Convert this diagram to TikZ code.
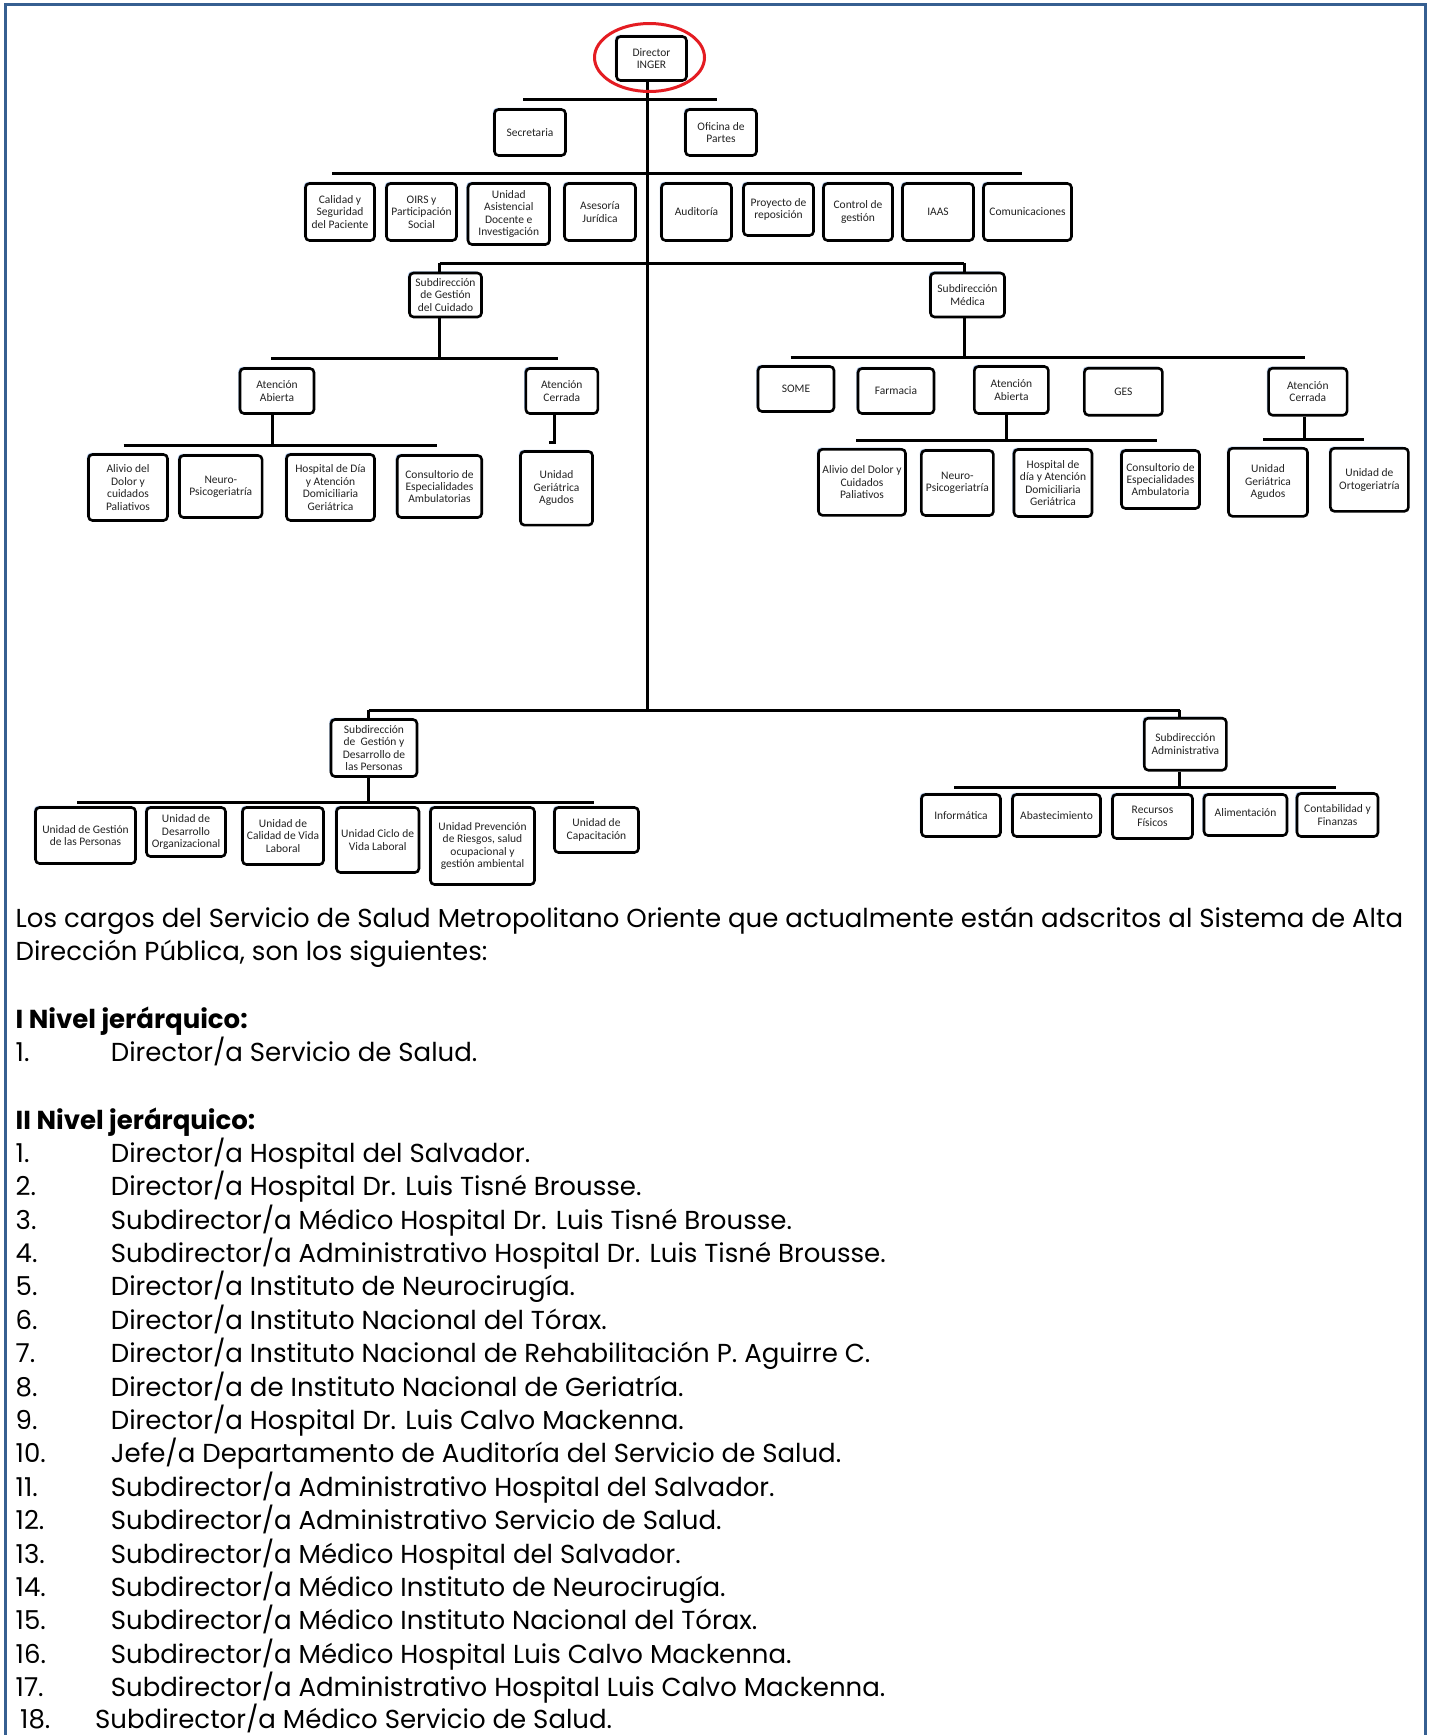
\documentclass[tikz,border=0pt]{standalone}
\usepackage{fontspec}
\setmainfont{Poppins}
\newfontfamily\chartfont{Carlito}
\usetikzlibrary{shapes.geometric,shadows}
\definecolor{framebl}{RGB}{54,95,145}
\definecolor{shadebl}{RGB}{70,120,190}
\definecolor{ringred}{RGB}{228,28,34}
\definecolor{boxtxt}{RGB}{35,35,35}
\tikzset{
  bx/.style={draw=black, line width=2.6pt, rounded corners=4pt, fill=white, align=center,
    inner sep=0pt, font=\chartfont\fontsize{11.5}{12.4}\selectfont, text=boxtxt,
    drop shadow={shadow xshift=-1.6pt, shadow yshift=1.6pt, fill=shadebl, opacity=0.5}},
  conn/.style={line width=3pt, draw=black},
  body/.style={anchor=base west, inner sep=0pt, font=\fontsize{26}{32}\selectfont},
  bodyb/.style={body, font=\fontsize{26}{32}\selectfont\bfseries},
}
\newcommand\bxnode[6]{\node[bx, minimum width=#4, minimum height=#5] (#1) at (#2,#3) {#6};}
\begin{document}
\begin{tikzpicture}[x=1pt,y=-1pt]
\useasboundingbox (0,0) rectangle (1429,1735);
\fill[white] (0,0) rectangle (1429,1735);
% frame
\draw[framebl, line width=3pt] (5.5,1740) -- (5.5,4.5) -- (1425.5,4.5) -- (1425.5,1740);

% ---- boxes
\bxnode{dir}{651.5}{58.5}{70}{44}{Director\\INGER}
\bxnode{sec}{530}{132.5}{71}{46}{Secretaria}
\bxnode{ofi}{721}{132.5}{71}{46}{Oficina de\\Partes}
\bxnode{cal}{340}{212}{69}{57}{Calidad y\\Seguridad\\del Paciente}
\bxnode{oirs}{421.5}{212}{70}{57}{OIRS y\\Participación\\Social}
\bxnode{uad}{508.75}{214}{81.5}{61}{Unidad\\Asistencial\\Docente e\\Investigación}
\bxnode{ase}{600}{212}{71}{57}{Asesoría\\Jurídica}
\bxnode{aud}{696.5}{212}{70}{57}{Auditoría}
\bxnode{pro}{778.5}{209.5}{70}{52}{Proyecto de\\reposición}
\bxnode{con}{858}{212}{69}{57}{Control de\\gestión}
\bxnode{iaas}{938}{212}{71}{57}{IAAS}
\bxnode{com}{1027.5}{212}{88}{57}{Comunicaciones}

\bxnode{sgc}{445.5}{295}{72}{44}{Subdirección\\de Gestión\\del Cuidado}
\bxnode{sm}{967.5}{295}{74}{44}{Subdirección\\Médica}

\bxnode{aaL}{277}{391}{74}{45}{Atención\\Abierta}
\bxnode{acL}{561.8}{391}{72}{45}{Atención\\Cerrada}
\bxnode{alivL}{128}{487.5}{79}{66}{Alivio del\\Dolor y\\cuidados\\Paliativos}
\bxnode{neuL}{220.8}{486.5}{82.6}{62}{Neuro-\\Psicogeriatría}
\bxnode{hdL}{330.5}{487.5}{88}{66}{Hospital de Día\\y Atención\\Domiciliaria\\Geriátrica}
\bxnode{consL}{439.5}{486.5}{84.5}{62}{Consultorio de\\Especialidades\\Ambulatorias}
\bxnode{ugaL}{556.5}{488.3}{72}{73.7}{Unidad\\Geriátrica\\Agudos}

\bxnode{some}{796}{389}{76}{45}{SOME}
\bxnode{farm}{896}{391}{76}{45}{Farmacia}
\bxnode{aaR}{1011.4}{390}{74}{47}{Atención\\Abierta}
\bxnode{ges}{1123.4}{391.7}{78}{47}{GES}
\bxnode{acR}{1307.8}{391.7}{78.5}{47}{Atención\\Cerrada}
\bxnode{alivR}{862}{482.3}{87}{66}{Alivio del Dolor y\\Cuidados\\Paliativos}
\bxnode{neuR}{957.4}{483}{72}{65}{Neuro-\\Psicogeriatría}
\bxnode{hdR}{1053}{483}{78}{67}{Hospital de\\día y Atención\\Domiciliaria\\Geriátrica}
\bxnode{consR}{1160.5}{479.5}{78}{58}{Consultorio de\\Especialidades\\Ambulatoria}
\bxnode{ugaR}{1268}{482.3}{79}{68}{Unidad\\Geriátrica\\Agudos}
\bxnode{ortR}{1369.4}{479.8}{78}{63}{Unidad de\\Ortogeriatría}

\bxnode{sgdp}{374}{748}{86}{57}{Subdirección\\de~ Gestión y\\Desarrollo de\\las Personas}
\bxnode{sa}{1185.3}{744.2}{82}{52}{Subdirección\\Administrativa}

\bxnode{ugp}{85.5}{835.5}{100}{56}{Unidad de Gestión\\de las Personas}
\bxnode{udo}{186}{832}{79}{49}{Unidad de\\Desarrollo\\Organizacional}
\bxnode{ucv}{283}{836}{81}{57}{Unidad de\\Calidad de Vida\\Laboral}
\bxnode{ucvl}{377.7}{840}{82.5}{65}{Unidad Ciclo de\\Vida Laboral}
\bxnode{upr}{482.5}{846}{104}{77}{Unidad Prevención\\de Riesgos, salud\\ocupacional y\\gestión ambiental}
\bxnode{ucap}{596.5}{830}{84}{45}{Unidad de\\Capacitación}

\bxnode{inf}{961}{815.5}{79}{42}{Informática}
\bxnode{aba}{1056.5}{815.5}{88}{42}{Abastecimiento}
\bxnode{rf}{1152.5}{816.5}{80}{44}{Recursos\\Físicos}
\bxnode{ali}{1245.5}{815}{83}{41}{\raisebox{5pt}{Alimentación}}
\bxnode{cyf}{1337.5}{815}{81}{43}{Contabilidad y\\Finanzas}

% ---- connector coordinates
\coordinate (trunkX) at (647,0);
\coordinate (botT) at (647,710);
\coordinate (l1a) at (523,99.3);   \coordinate (l1b) at (717,99.3);
\coordinate (l2a) at (332,173.5);  \coordinate (l2b) at (1022,173.5);
\coordinate (l3a) at (439.5,263);  \coordinate (l3b) at (964,263);
\coordinate (lsub) at (439.5,358); \coordinate (lsubA) at (271,358); \coordinate (lsubB) at (558,358);
\coordinate (aaLb) at (272.5,445); \coordinate (aaLA) at (123.6,445); \coordinate (aaLB) at (437,445);
\coordinate (acLb) at (554.6,442); \coordinate (acLt) at (549,442);
\coordinate (rsub) at (964,357.5); \coordinate (rsubA) at (790.5,357.5); \coordinate (rsubB) at (1304.6,357.5);
\coordinate (aaRb) at (1006,440);  \coordinate (aaRA) at (856.4,440); \coordinate (aaRB) at (1157.4,440);
\coordinate (acRb) at (1304.6,439); \coordinate (acRA) at (1263,439); \coordinate (acRB) at (1364,439);
\coordinate (bbA) at (368.6,710);  \coordinate (bbB) at (1179.5,710);
\coordinate (sgdpb) at (368.6,802); \coordinate (sgdpA) at (77,802); \coordinate (sgdpB) at (594,802);
\coordinate (sab) at (1179.5,787); \coordinate (saA) at (954,787); \coordinate (saB) at (1336,787);

% ---- connectors
\draw[conn] (dir.south -| trunkX) -- (botT);
\draw[conn] (l1a) -- (l1b);
\draw[conn] (l2a) -- (l2b);
\draw[conn] (l3a) -- (l3b);
\draw[conn] (l3a) -- (sgc.north -| l3a);
\draw[conn] (sgc.south -| lsub) -- (lsub);
\draw[conn] (lsubA) -- (lsubB);
\draw[conn] (aaL.south -| aaLb) -- (aaLb);
\draw[conn] (aaLA) -- (aaLB);
\draw[conn] (acL.south -| acLb) -- (acLb) -- (acLt);
\draw[conn] (l3b) -- (sm.north -| l3b);
\draw[conn] (sm.south -| rsub) -- (rsub);
\draw[conn] (rsubA) -- (rsubB);
\draw[conn] (aaR.south -| aaRb) -- (aaRb);
\draw[conn] (aaRA) -- (aaRB);
\draw[conn] (acR.south -| acRb) -- (acRb);
\draw[conn] (acRA) -- (acRB);
\draw[conn] (bbA) -- (bbB);
\draw[conn] (bbA) -- (sgdp.north -| bbA);
\draw[conn] (sgdp.south -| sgdpb) -- (sgdpb);
\draw[conn] (sgdpA) -- (sgdpB);
\draw[conn] (bbB) -- (sa.north -| bbB);
\draw[conn] (sa.south -| sab) -- (sab);
\draw[conn] (saA) -- (saB);

% red ring
\node[draw=ringred, line width=3pt, ellipse, minimum width=110pt, minimum height=68pt, inner sep=0pt] (ring) at (649.5,57.5) {};

% ---- text
\node[body] (p1) at (15.5,927.6) {Los cargos del Servicio de Salud Metropolitano Oriente que actualmente están adscritos al Sistema de Alta};
\node[body] (p2) at (15.5,960.8) {Dirección Pública, son los siguientes:};
\node[bodyb] (h1) at (15.5,1028.3) {I Nivel jerárquico:};
\node[body] (a1n) at (15.5,1061.5) {1.};
\node[body] (a1) at (110.7,1061.5) {Director/a Servicio de Salud.};
\node[bodyb] (h2) at (15.5,1129) {II Nivel jerárquico:};
\node[body] (b1n) at (15.5,1162.2) {1.};  \node[body] (b1) at (110.7,1162.2) {Director/a Hospital del Salvador.};
\node[body] (b2n) at (15.5,1195.6) {2.};  \node[body] (b2) at (110.7,1195.6) {Director/a Hospital Dr. Luis Tisné Brousse.};
\node[body] (b3n) at (15.5,1229.0) {3.};  \node[body] (b3) at (110.7,1229.0) {Subdirector/a Médico Hospital Dr. Luis Tisné Brousse.};
\node[body] (b4n) at (15.5,1262.4) {4.};  \node[body] (b4) at (110.7,1262.4) {Subdirector/a Administrativo Hospital Dr. Luis Tisné Brousse.};
\node[body] (b5n) at (15.5,1295.8) {5.};  \node[body] (b5) at (110.7,1295.8) {Director/a Instituto de Neurocirugía.};
\node[body] (b6n) at (15.5,1329.2) {6.};  \node[body] (b6) at (110.7,1329.2) {Director/a Instituto Nacional del Tórax.};
\node[body] (b7n) at (15.5,1362.6) {7.};  \node[body] (b7) at (110.7,1362.6) {Director/a Instituto Nacional de Rehabilitación P. Aguirre C.};
\node[body] (b8n) at (15.5,1396.0) {8.};  \node[body] (b8) at (110.7,1396.0) {Director/a de Instituto Nacional de Geriatría.};
\node[body] (b9n) at (15.5,1429.4) {9.};  \node[body] (b9) at (110.7,1429.4) {Director/a Hospital Dr. Luis Calvo Mackenna.};
\node[body] (b10n) at (15.5,1462.8) {10.}; \node[body] (b10) at (110.7,1462.8) {Jefe/a Departamento de Auditoría del Servicio de Salud.};
\node[body] (b11n) at (15.5,1496.2) {11.}; \node[body] (b11) at (110.7,1496.2) {Subdirector/a Administrativo Hospital del Salvador.};
\node[body] (b12n) at (15.5,1529.6) {12.}; \node[body] (b12) at (110.7,1529.6) {Subdirector/a Administrativo Servicio de Salud.};
\node[body] (b13n) at (15.5,1563.0) {13.}; \node[body] (b13) at (110.7,1563.0) {Subdirector/a Médico Hospital del Salvador.};
\node[body] (b14n) at (15.5,1596.4) {14.}; \node[body] (b14) at (110.7,1596.4) {Subdirector/a Médico Instituto de Neurocirugía.};
\node[body] (b15n) at (15.5,1629.8) {15.}; \node[body] (b15) at (110.7,1629.8) {Subdirector/a Médico Instituto Nacional del Tórax.};
\node[body] (b16n) at (15.5,1663.2) {16.}; \node[body] (b16) at (110.7,1663.2) {Subdirector/a Médico Hospital Luis Calvo Mackenna.};
\node[body] (b17n) at (15.5,1696.6) {17.}; \node[body] (b17) at (110.7,1696.6) {Subdirector/a Administrativo Hospital Luis Calvo Mackenna.};
\node[body] (b18n) at (20,1728.5) {18.};   \node[body] (b18) at (95,1728.5) {Subdirector/a Médico Servicio de Salud.};
\end{tikzpicture}
\end{document}
